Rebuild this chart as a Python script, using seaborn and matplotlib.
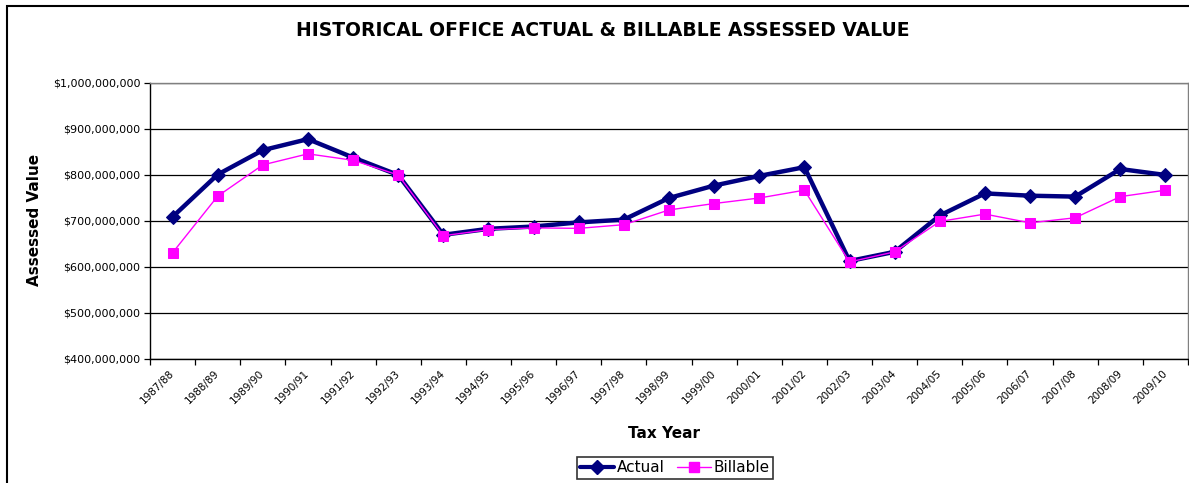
import matplotlib
matplotlib.use("Agg")
import matplotlib.pyplot as plt
from matplotlib.ticker import FuncFormatter, FixedLocator
from matplotlib.patches import Rectangle
from matplotlib.lines import Line2D
import seaborn as sns
import pandas as pd
import numpy as np

tax_years = ["1987/88", "1988/89", "1989/90", "1990/91", "1991/92", "1992/93",
             "1993/94", "1994/95", "1995/96", "1996/97", "1997/98", "1998/99",
             "1999/00", "2000/01", "2001/02", "2002/03", "2003/04", "2004/05",
             "2005/06", "2006/07", "2007/08", "2008/09", "2009/10"]
actual = [709e6, 801e6, 854e6, 878e6, 838e6, 800e6,
          670e6, 683e6, 688e6, 697e6, 703e6, 750e6,
          777e6, 798e6, 817e6, 613e6, 633e6, 712e6,
          760e6, 755e6, 753e6, 813e6, 800e6]
billable = [631e6, 754e6, 822e6, 846e6, 832e6, 800e6,
            668e6, 681e6, 685e6, 684e6, 692e6, 724e6,
            738e6, 750e6, 767e6, 611e6, 633e6, 699e6,
            715e6, 696e6, 707e6, 753e6, 767e6]
y_ticks = [400e6, 500e6, 600e6, 700e6, 800e6, 900e6, 1000e6]

sns.set_theme(style="white")
plt.rcParams["font.family"] = ["DejaVu Sans"]
plt.rcParams["text.color"] = "black"
plt.rcParams["axes.labelcolor"] = "black"
plt.rcParams["xtick.color"] = "black"
plt.rcParams["ytick.color"] = "black"

W, H = 1189, 483
fig = plt.figure(figsize=(W / 100, H / 100), dpi=100)
ax = fig.add_axes([150 / W, 1 - 359 / H, (1188 - 150) / W, (359 - 83) / H])

idx = np.arange(len(tax_years))
df = pd.DataFrame({"pos": np.concatenate([idx, idx]),
                   "value": actual + billable,
                   "series": ["Actual"] * len(idx) + ["Billable"] * len(idx)})

sns.lineplot(data=df[df.series == "Actual"], x="pos", y="value", ax=ax,
             color="#000080", linewidth=3.2, marker="D", markersize=7,
             markeredgecolor="#000080", zorder=3, legend=False)
sns.lineplot(data=df[df.series == "Billable"], x="pos", y="value", ax=ax,
             color="#FF00FF", linewidth=1.0, marker="s", markersize=7,
             markeredgecolor="#FF00FF", zorder=4, legend=False)

ax.set_xlim(-0.5, len(tax_years) - 0.5)
ax.set_ylim(400e6, 1000e6)
ax.set_yticks(y_ticks)
ax.yaxis.set_major_formatter(FuncFormatter(lambda v, p: "${:,.0f}".format(v)))
ax.grid(axis="y", color="#000000", linewidth=0.9)
ax.grid(axis="x", visible=False)
ax.set_axisbelow(True)

ax.xaxis.set_major_locator(FixedLocator(np.arange(-0.5, len(tax_years), 1.0)))
ax.xaxis.set_major_formatter(FuncFormatter(lambda v, p: ""))
ax.xaxis.set_minor_locator(FixedLocator(idx))
ax.set_xticklabels(tax_years, minor=True)
ax.tick_params(axis="x", which="major", length=4, width=0.9, color="black", direction="out", bottom=True)
ax.tick_params(axis="x", which="minor", length=0, pad=9, labelsize=7.5, labelcolor="black")
for lbl in ax.get_xticklabels(minor=True):
    lbl.set_rotation(45)
    lbl.set_ha("right")
    lbl.set_va("center")
    lbl.set_rotation_mode("anchor")
ax.tick_params(axis="y", length=4, width=0.9, color="black", direction="out", left=True,
               labelsize=8, pad=3, labelcolor="black")

for s in ["left", "bottom"]:
    ax.spines[s].set_color("black")
    ax.spines[s].set_linewidth(1.0)
for s in ["top", "right"]:
    ax.spines[s].set_color("#808080")
    ax.spines[s].set_linewidth(1.0)

ax.set_xlabel("")
ax.set_ylabel("")
fig.text(35 / W, 1 - 220 / H, "Assessed Value", rotation=90, ha="center", va="center",
         fontsize=11, fontweight="bold", color="black")
fig.text(664 / W, 1 - 434 / H, "Tax Year", ha="center", va="center",
         fontsize=11, fontweight="bold", color="black")
fig.text(603 / W, 1 - 31 / H, "HISTORICAL OFFICE ACTUAL & BILLABLE ASSESSED VALUE",
         ha="center", va="center", fontsize=13.5, fontweight="bold", color="black")

handles = [Line2D([], [], color="#000080", linewidth=3, marker="D", markersize=7),
           Line2D([], [], color="#FF00FF", linewidth=1, marker="s", markersize=7)]
leg = fig.legend(handles, ["Actual", "Billable"], loc="center",
                 bbox_to_anchor=(675 / W, 1 - 468 / H), ncol=2, frameon=True,
                 fancybox=False, edgecolor="black", fontsize=11,
                 handlelength=2.2, handletextpad=0.2, columnspacing=0.8,
                 borderpad=0.2, borderaxespad=0)
leg.get_frame().set_linewidth(1.2)
for t in leg.get_texts():
    t.set_color("black")

fig.patches.append(Rectangle((7 / W, -0.05), 1.1, 1 - 6 / H + 0.05,
                             transform=fig.transFigure, fill=False,
                             edgecolor="black", linewidth=1.5))

fig.savefig("out.png", dpi=100)
